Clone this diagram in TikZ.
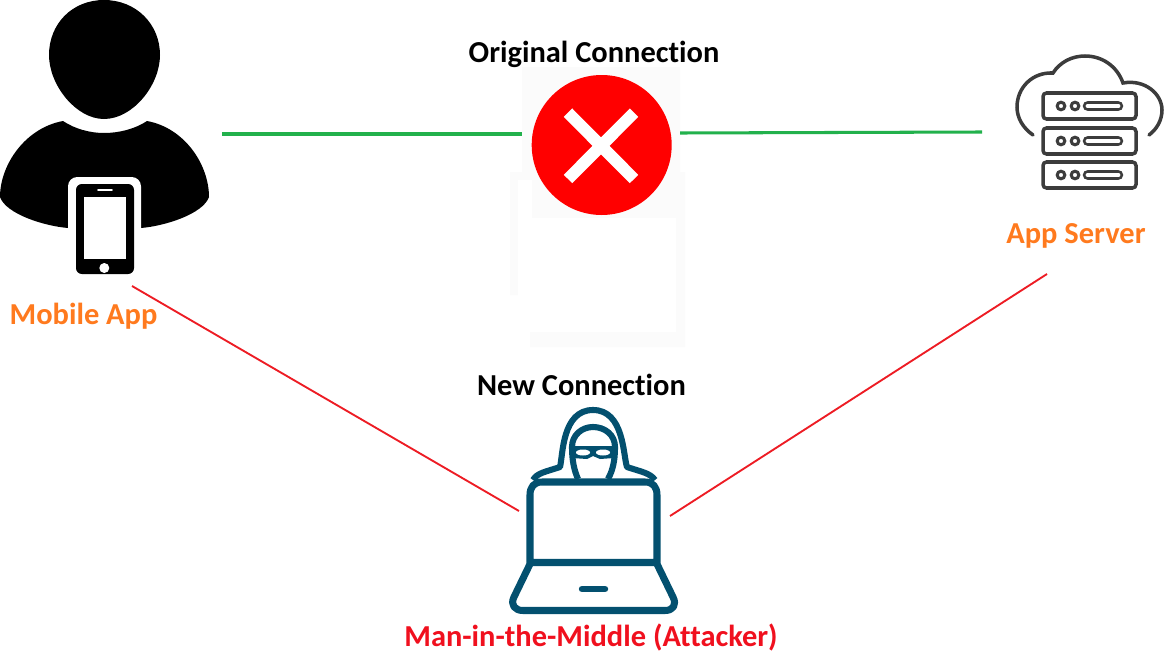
\documentclass[tikz,border=0pt]{standalone}
\usepackage{fontspec}
\setmainfont{Carlito}[Ligatures=NoCommon]
\definecolor{linkgreen}{HTML}{22B14C}
\definecolor{linkred}{HTML}{ED1C24}
\definecolor{textred}{HTML}{F0101E}
\definecolor{labelorange}{HTML}{FF7A1E}
\definecolor{serverink}{HTML}{3C3C3C}
\definecolor{hackerblue}{HTML}{03506F}
\definecolor{blockred}{HTML}{FF0000}
\tikzset{
  greenlink/.style={draw=linkgreen,line width=2.6pt},
  redlink/.style={draw=linkred,line width=1.6pt},
  caption/.style={font=\bfseries\fontsize{26}{28}\selectfont,inner sep=0pt},
  serverline/.style={draw=serverink,line width=3pt},
  hackerline/.style={draw=hackerblue,line width=5.2pt,line join=round}
}
\begin{document}
\begin{tikzpicture}[x=0.03cm,y=-0.03cm]
  \useasboundingbox (0,0) rectangle (1167,672);
  \fill[fill=black!1.5] (522,67) -- (680,67) -- (680,172) -- (685,172) -- (685,347) -- (530,347) -- (530,295) -- (510,295) -- (510,172) -- (522,172) -- cycle;
  \fill[white] (518,180) -- (532,180) -- (532,218) -- (676,218) -- (676,332) -- (530,332) -- (530,300) -- (518,300) -- cycle;
  \coordinate (phoneLink) at (222,134);
  \coordinate (blockLeft) at (522,134);
  \coordinate (blockRight) at (680,133);
  \coordinate (serverLink) at (982,132);
  \coordinate (phoneTap) at (132,286);
  \coordinate (hackerLeft) at (519,511);
  \coordinate (serverTap) at (1047,274);
  \coordinate (hackerRight) at (670,516);
  \draw[greenlink] (phoneLink) -- (blockLeft);
  \draw[greenlink] (blockRight) -- (serverLink);
  \draw[redlink] (phoneTap) -- (hackerLeft);
  \draw[redlink] (serverTap) -- (hackerRight);
  % user with phone
  \fill[black] (104,0) .. controls (72,0) and (49,24) .. (49,55) .. controls (49,85) and (76,119) .. (104,119) .. controls (133,119) and (160,85) .. (160,55) .. controls (160,24) and (136,0) .. (104,0) -- cycle;
  \fill[black] (63,121) .. controls (75,129) and (90,133) .. (104,133) .. controls (119,133) and (135,129) .. (147,121) .. controls (185,128) and (209,165) .. (209,197) .. controls (203,214) and (165,226) .. (141,228) -- (68,228) .. controls (44,226) and (6,214) .. (0,197) .. controls (0,165) and (25,128) .. (63,121) -- cycle;
  \fill[white,rounded corners=8pt] (68,240) -- (68,177) -- (141,177) -- (141,240) -- cycle;
  \fill[white] (68,228) rectangle (141,280);
  \fill[black,rounded corners=5pt] (76,274) -- (76,184) -- (134,184) -- (134,274) -- cycle;
  \fill[white] (84,197) rectangle (126,259);
  \draw[white,line width=1.5pt,line cap=round] (98,190) -- (112,190);
  \fill[white] (104.3,268) circle (5);
  % block sign
  \fill[blockred] (601.7,145) circle (70);
  \draw[white,line width=10.2pt] (568,112.7) -- (634,179);
  \draw[white,line width=10.2pt] (634,112.7) -- (568,179);
  % cloud and servers
  \draw[serverline,line cap=round] (1033,135) .. controls (1023,128) and (1017,118) .. (1017,107) .. controls (1017,88) and (1032,72) .. (1053,73) .. controls (1060,62) and (1072,56) .. (1085,56) .. controls (1102,56) and (1117,66) .. (1123,83) .. controls (1145,79) and (1162,94) .. (1162,110) .. controls (1162,120) and (1157,129) .. (1149,135);
  \foreach \y in {93,128,162} {
    \draw[serverline,rounded corners=3pt] (1043,\y) rectangle (1136,\y+26);
    \draw[serverline,line width=2.6pt] (1061,\y+13) circle (3.8);
    \draw[serverline,line width=2.6pt] (1075,\y+13) circle (3.8);
    \draw[serverline,line width=9pt,line cap=round] (1088,\y+13) -- (1118,\y+13);
    \draw[white,line width=4.2pt,line cap=round] (1088,\y+13) -- (1118,\y+13);
  }
  % attacker at laptop
  \draw[hackerline] (533,480) .. controls (537,473) and (545,472) .. (560,467) .. controls (563,455) and (562,410) .. (593,410) .. controls (624,410) and (623,455) .. (627,467) .. controls (642,472) and (650,473) .. (655,480);
  \draw[hackerline] (578,479) .. controls (574,470) and (572,460) .. (572,447) .. controls (572,435) and (582,427) .. (593,427) .. controls (605,427) and (615,435) .. (615,447) .. controls (615,460) and (613,470) .. (608,479);
  \fill[hackerblue] (573,446) -- (613,446) -- (614,458) -- (600,459) -- (593,456) -- (587,459) -- (572,458) -- cycle;
  \fill[white] (583,452.5) ellipse (7 and 3);
  \fill[white] (603,452.5) ellipse (7 and 3);
  \draw[hackerline,line width=6pt] (530,562.5) -- (530,495) .. controls (530,487) and (534,482) .. (542,482) -- (645,482) .. controls (653,482) and (657,487) .. (657,495) -- (657,562.5) -- cycle;
  \draw[hackerline,line width=6pt] (530,564) -- (514,597) .. controls (510,605) and (515,610.5) .. (523,610.5) -- (665,610.5) .. controls (673,610.5) and (677,605) .. (673,597) -- (657,564);
  \draw[hackerline,line width=5.5pt,line cap=round] (582,589) -- (605,589);
  \node[caption,text=labelorange] (mobileLabel) at (83.5,316) {Mobile App};
  \node[caption,text=labelorange] (serverLabel) at (1076,236) {App Server};
  \node[caption,text=black] (originalLabel) at (594,54) {Original Connection};
  \node[caption,text=black] (newLabel) at (581.5,385) {New Connection};
  \node[caption,text=textred] (attackerLabel) at (591,637) {Man-in-the-Middle (Attacker)};
\end{tikzpicture}
\end{document}
